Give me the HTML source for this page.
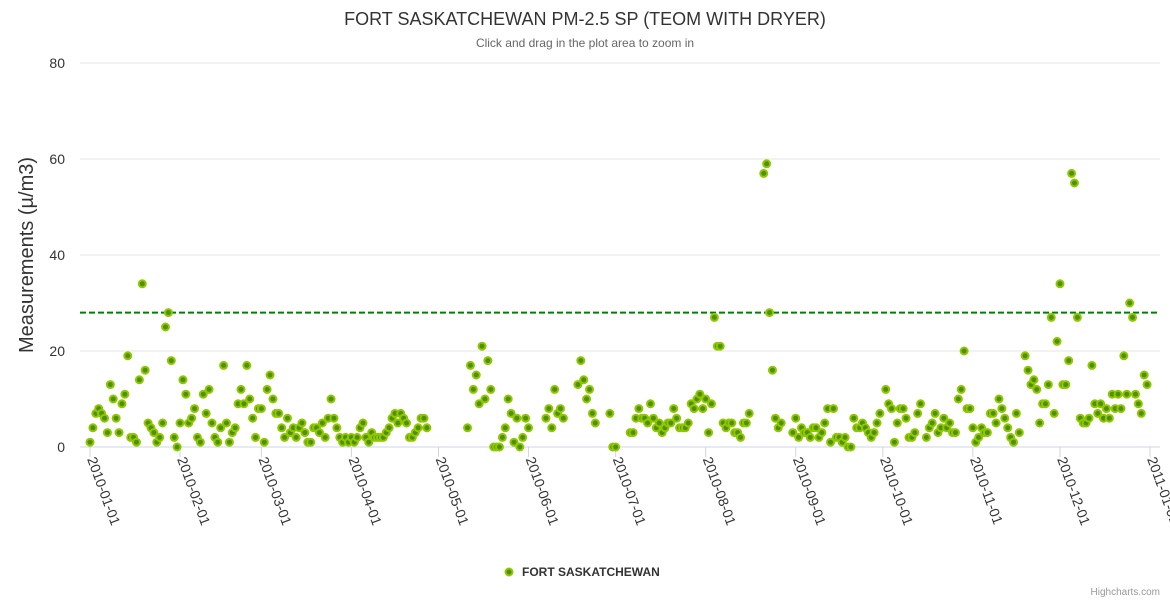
<!DOCTYPE html>
<html><head><meta charset="utf-8"><style>
html,body{margin:0;padding:0;background:#fff;}
svg{display:block;font-family:"Liberation Sans",sans-serif;}
</style></head><body>
<svg id="chart" width="1170" height="600">
<text x="585" y="25" text-anchor="middle" font-size="18" fill="#333">FORT SASKATCHEWAN PM-2.5 SP (TEOM WITH DRYER)</text>
<text x="585" y="47" text-anchor="middle" font-size="12" fill="#666">Click and drag in the plot area to zoom in</text>
<text transform="translate(33,255) rotate(-90)" text-anchor="middle" font-size="20" fill="#333">Measurements (µ/m3)</text>
<g id="grid"></g><g id="xaxis"></g><g id="pts"></g>
<g>
<circle cx="509" cy="572" r="3.5" fill="#4f8f00" stroke="#90c800" stroke-width="2"/>
<text x="522" y="576" font-size="12" font-weight="bold" fill="#333">FORT SASKATCHEWAN</text>
</g>
<text x="1160" y="595" text-anchor="end" font-size="10" fill="#999">Highcharts.com</text>
</svg>
<script>
const yTicks=[0,20,40,60,80];
const xTickLabels=["2010-01-01","2010-02-01","2010-03-01","2010-04-01","2010-05-01","2010-06-01","2010-07-01","2010-08-01","2010-09-01","2010-10-01","2010-11-01","2010-12-01","2011-01-01"];
const monthStartDays=[0,31,59,90,120,151,181,212,243,273,304,334,365];
const threshold=28;
const N=null;
const jan=[1,4,7,8,7,6,3,13,10,6,3,9,11,19,2,2,1,14,34,16,5,4,3,1,2,5,25,28,18,2,0];
const feb=[5,14,11,5,6,8,2,1,11,7,12,5,2,1,4,17,5,1,3,4,9,12,9,17,10,6,2,8];
const mar=[8,1,12,15,10,7,7,4,2,6,3,4,2,4,5,3,1,1,4,4,3,5,2,6,10,6,4,2,1,2,1];
const apr=[2,1,2,4,5,2,1,3,2,2,2,2,3,4,6,7,5,7,6,5,2,2,3,4,6,6,4,N,N,N];
const may=[N,N,N,N,N,N,N,N,N,N,4,17,12,15,9,21,10,18,12,0,0,0,2,4,10,7,1,6,0,2,6];
const jun=[4,N,N,N,N,N,6,8,4,12,7,8,6,N,N,N,N,13,18,14,10,12,7,5,N,N,N,N,7,0];
const jul=[0,N,N,N,N,3,3,6,8,6,6,5,9,6,4,5,3,4,5,5,8,6,4,4,4,5,9,8,10,11,8];
const aug=[10,3,9,27,21,21,5,4,5,5,3,3,2,5,5,7,N,N,N,N,57,59,28,16,6,4,5,N,N,N,3];
const sep=[6,2,4,3,3,2,4,4,2,3,5,8,1,8,2,2,1,2,0,0,6,4,4,5,4,3,2,3,5,7];
const oct=[N,12,9,8,1,5,8,8,6,2,2,3,7,9,N,2,4,5,7,3,4,6,4,5,3,3,10,12,20,8,8];
const nov=[4,1,2,4,3,3,7,7,5,10,8,6,4,2,1,7,3,N,19,16,13,14,12,5,9,9,13,27,7,22];
const dec=[34,13,13,18,57,55,27,6,5,5,6,17,9,7,9,6,8,6,11,8,11,8,19,11,30,27,11,9,7,15,13];
const values=[].concat(jan,feb,mar,apr,may,jun,jul,aug,sep,oct,nov,dec);
const NS="http://www.w3.org/2000/svg";
const X0=90,X1=1150,Y0=447,YTOP=63;
function xs(d){return X0+(X1-X0)*d/365;}
function ys(v){return Y0-(Y0-YTOP)*v/80;}
function mk(t,a,p){const e=document.createElementNS(NS,t);for(const k in a)e.setAttribute(k,a[k]);p.appendChild(e);return e;}
const grid=document.getElementById('grid');
yTicks.forEach(v=>{
  if(v>0){const l=mk('line',{x1:80,x2:1160,y1:ys(v),y2:ys(v),stroke:'#e6e6e6','stroke-width':1},grid);
  
  }
  const t=mk('text',{x:65,y:ys(v)+5,'text-anchor':'end','font-size':14,fill:'#333'},grid);
  t.textContent=v;
  
  
});
const xa=document.getElementById('xaxis');
const al=mk('line',{x1:80,x2:1160,y1:Y0,y2:Y0,stroke:'#ccd6eb','stroke-width':1},xa);


xTickLabels.forEach((s,i)=>{
  const x=xs(monthStartDays[i]);
  const tk=mk('line',{x1:x,x2:x,y1:Y0,y2:Y0+10,stroke:'#ccd6eb'},xa);
  
  
  const t=mk('text',{transform:`translate(${x-3},${Y0+12}) rotate(70)`,'font-size':14,fill:'#333'},xa);
  t.textContent=s;
  
  
});
const th=mk('line',{x1:80,x2:1160,y1:ys(threshold),y2:ys(threshold),stroke:'#008000','stroke-width':2,'stroke-dasharray':'6,3'},xa);


const pts=document.getElementById('pts');
values.forEach((v,d)=>{
  if(v===null||v===undefined)return;
  const c=mk('circle',{cx:xs(d),cy:ys(v),r:3.5,fill:'#4f8f00',stroke:'#90c800','stroke-width':2},pts);
  
  
});
</script>
</body></html>
